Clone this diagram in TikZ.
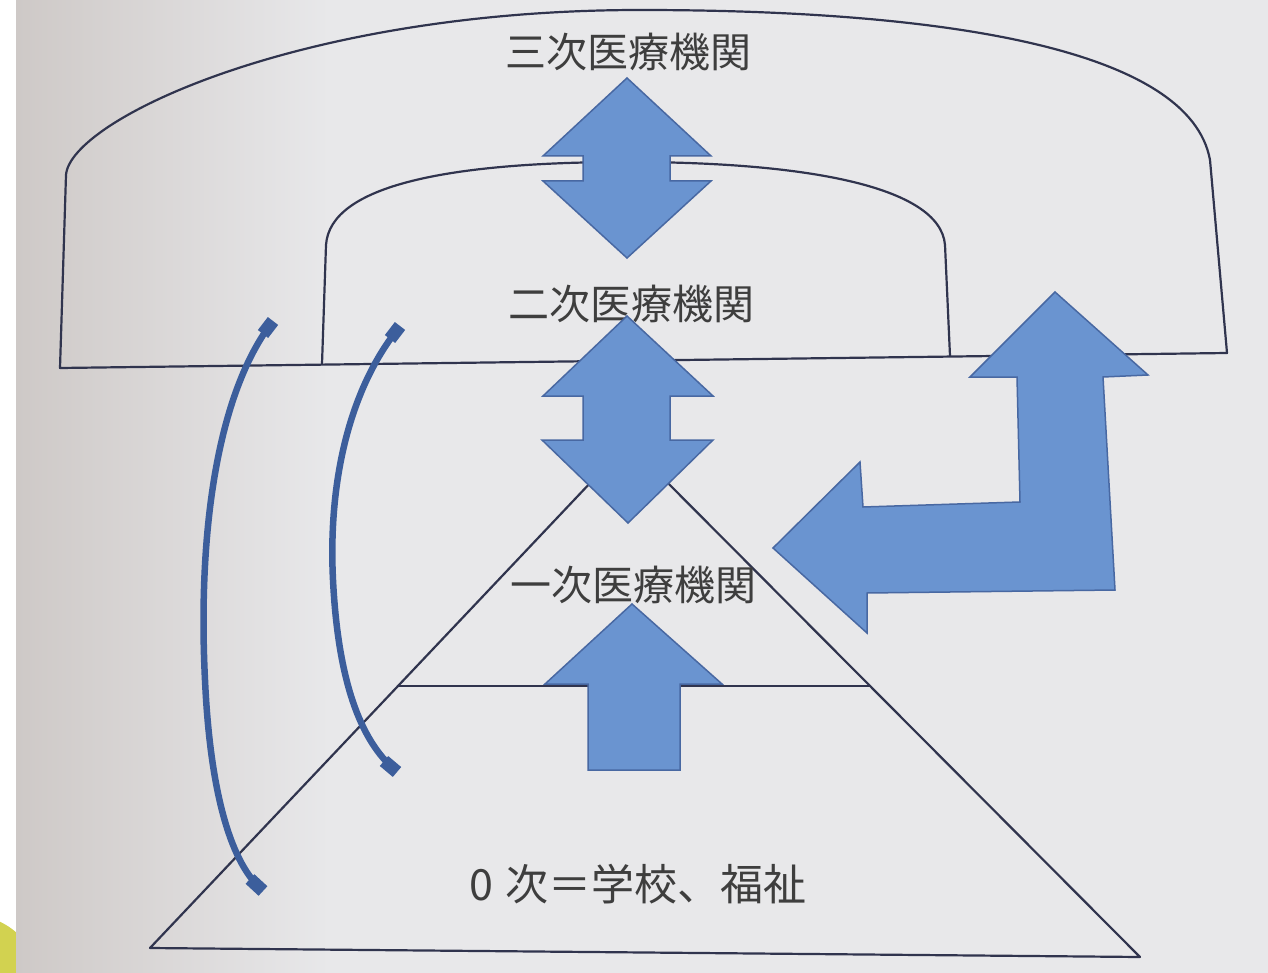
\documentclass[tikz,border=0pt]{standalone}
\usepackage{fontspec}
\newfontfamily\jpfont{Noto Sans CJK JP}
\definecolor{paperL}{RGB}{206,201,199}
\definecolor{paperR}{RGB}{232,232,234}
\definecolor{linec}{RGB}{48,52,78}
\definecolor{arrowfill}{RGB}{106,148,208}
\definecolor{arrowedge}{RGB}{72,104,162}
\definecolor{curvec}{RGB}{60,94,156}
\definecolor{textc}{RGB}{62,62,62}
\definecolor{yellowc}{RGB}{210,210,80}
\begin{document}
\begin{tikzpicture}[x=1pt,y=-1pt,
  outline/.style={draw=linec,line width=2.2pt,line join=round},
  blockarrow/.style={fill=arrowfill,draw=arrowedge,line width=1.5pt,line join=miter},
  lbl/.style={font=\jpfont\fontsize{41}{48}\selectfont,text=textc,inner sep=0pt},
  curvearrow/.style={draw=curvec,line width=6.5pt},
  curveend/.style={draw=curvec,line width=13pt}]
\useasboundingbox (0,0) rectangle (1268,973);
\fill[white] (0,0) rectangle (1268,973);
\fill[yellowc] (-30,985) circle (70pt);
\fill[paperR] (16,0) rectangle (1268,973);
\shade[left color=paperL,right color=paperR] (16,0) rectangle (330,973);

% domes
\draw[outline] (60,368) -- (66,175) .. controls (70,120) and (300,10) .. (640,10)
  .. controls (950,10) and (1190,50) .. (1210,160) -- (1227,353) -- cycle;
\draw[outline] (322,364) -- (326,245) .. controls (330,185) and (450,162) .. (628,162)
  .. controls (800,162) and (940,185) .. (945,245) -- (950,356);

% pyramid
\draw[outline] (150,948) -- (628,443) -- (1140,957) -- cycle;
\draw[outline] (398,686) -- (870,686);

% labels
\node[lbl] (t3) at (628,52) {三次医療機関};
\node[lbl] (t2) at (631,304) {二次医療機関};
\node[lbl] (t1) at (633,585) {一次医療機関};
\node[lbl,font=\jpfont\fontsize{43}{50}\selectfont] (t0) at (638,884) {0\hspace{12pt}次＝学校、福祉};

% block arrows
\draw[blockarrow] (627,78) -- (711,156) -- (670,156) -- (670,181) -- (711,181) -- (627,258)
  -- (543,181) -- (583,181) -- (583,156) -- (543,156) -- cycle;
\draw[blockarrow] (627,316) -- (713,396) -- (670,396) -- (670,440) -- (713,440) -- (628,523)
  -- (542,440) -- (583,440) -- (583,396) -- (543,396) -- cycle;
\draw[blockarrow] (632,604) -- (722,684) -- (680,684) -- (680,770) -- (588,770) -- (588,684)
  -- (545,684) -- cycle;
\draw[blockarrow] (1055,292) -- (1148,375) -- (1103,377) -- (1115,590) -- (867,593) -- (867,633)
  -- (773,548) -- (860,462) -- (863,507) -- (1020,502) -- (1017,377) -- (970,377) -- cycle;

% curved arrows
\coordinate (a1s) at (270,325);
\coordinate (a1e) at (260,888);
\draw[curvearrow] (a1s) .. controls (215,400) and (198,540) .. (205,680)
  .. controls (210,790) and (230,860) .. (a1e);
\draw[curveend] (273,321) -- (263,334);
\draw[curveend] (250,879) -- (263,891);

\coordinate (a2s) at (397,330);
\coordinate (a2e) at (395,770);
\draw[curvearrow] (a2s) .. controls (350,390) and (328,480) .. (333,580)
  .. controls (338,680) and (360,740) .. (a2e);
\draw[curveend] (400,326) -- (390,339);
\draw[curveend] (384,761) -- (397,772);
\end{tikzpicture}
\end{document}
